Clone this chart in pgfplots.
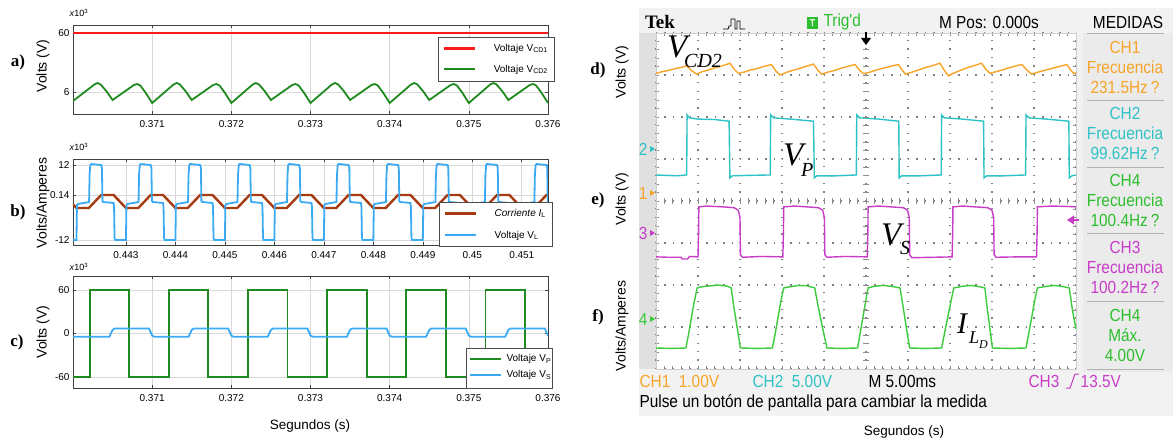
\documentclass[border=0pt]{standalone}
\usepackage{pgfplots}
\pgfplotsset{compat=1.18}
\usepackage{fontspec}
\setmainfont{Liberation Sans}
\newfontfamily\tnr{Liberation Serif}
\newfontfamily\scopef[FakeStretch=0.88]{Liberation Sans}
\definecolor{mred}{HTML}{FF1A1A}
\definecolor{mgreen}{HTML}{208A20}
\definecolor{mblue}{HTML}{3AAAF5}
\definecolor{mbrown}{HTML}{A63A10}
\definecolor{sorange}{HTML}{F7A428}
\definecolor{scyan}{HTML}{2EC2C6}
\definecolor{smag}{HTML}{C83CC8}
\definecolor{sgreen}{HTML}{3CCB3C}
\definecolor{tgreen}{HTML}{2DBE2D}
\pgfplotsset{
  leftax/.style={scale only axis, width=475pt, anchor=south west,
    axis line style={black!75, line width=0.7pt},
    tick align=inside, major tick length=3pt, tick style={black!75, line width=0.6pt},
    grid=major, major grid style={black!15, line width=0.6pt},
    ticklabel style={font=\fontsize{10}{11}\selectfont},
    /pgf/number format/assume math mode=true,
    xticklabel style={yshift=-3pt},
    legend cell align=left,
    legend image code/.code={\draw[##1] (0pt,0pt) -- (31pt,0pt);},
    legend style={draw=black!70, fill=white, font=\fontsize{10}{12}\selectfont, inner xsep=4pt},
    clip=true},
}
\begin{document}
\begin{tikzpicture}
\path[use as bounding box] (0,0) rectangle (1173pt,440pt);
% ---------- oscilloscope background ----------
\begin{scope}[x=1pt,y=-1pt,shift={(0pt,440pt)}]
  \fill[black!5] (639,8) rectangle (1173,416);
  \fill[black!12] (639,33) rectangle (656,369);
  \fill[black!8] (1083,33) rectangle (1173,372);
\end{scope}

% ---------- panel a ----------
\begin{axis}[leftax, at={(73pt,326pt)}, height=89pt,
  xmin=0.370, xmax=0.376, ymin=0, ymax=89,
  xtick={0.371,0.372,0.373,0.374,0.375,0.376}, xticklabels={0.371,0.372,0.373,0.374,0.375,0.376},
  ytick={22,81}, yticklabels={6,60},
  legend style={at={(1.0126,0.865)}, anchor=north east, row sep=8pt, inner ysep=5pt,
    /tikz/every odd column/.append style={column sep=16pt}}]
\addplot[mred, line width=2.6pt] coordinates {(0.370,81) (0.376,81)};
\addlegendentry{Voltaje V\textsubscript{CD1}}
\addplot[mgreen, line width=1.8pt] coordinates {
(0.37000,13) (0.37027,29.5) (0.37031,31) (0.37035,29.5) (0.37042,23) (0.37050,14) (0.37077,29) (0.37081,30) (0.37085,28.5) (0.37092,21) (0.37100,11)
(0.37127,29.5) (0.37131,31) (0.37135,29.5) (0.37142,23) (0.37150,14) (0.37177,29) (0.37181,30) (0.37185,28.5) (0.37192,21) (0.37200,11)
(0.37227,29.5) (0.37231,31) (0.37235,29.5) (0.37242,23) (0.37250,14) (0.37277,29) (0.37281,30) (0.37285,28.5) (0.37292,21) (0.37300,11)
(0.37327,29.5) (0.37331,31) (0.37335,29.5) (0.37342,23) (0.37350,14) (0.37377,29) (0.37381,30) (0.37385,28.5) (0.37392,21) (0.37400,11)
(0.37427,29.5) (0.37431,31) (0.37435,29.5) (0.37442,23) (0.37450,14) (0.37477,29) (0.37481,30) (0.37485,28.5) (0.37492,21) (0.37500,11)
(0.37527,29.5) (0.37531,31) (0.37535,29.5) (0.37542,23) (0.37550,14) (0.37577,29) (0.37581,30) (0.37585,28.5) (0.37592,21) (0.37600,11)};
\addlegendentry{Voltaje V\textsubscript{CD2}}
\end{axis}

% ---------- panel b ----------
\begin{axis}[leftax, at={(73pt,195pt)}, height=86pt,
  xmin=0.44193, xmax=0.45153, ymin=0, ymax=86,
  xtick={0.443,0.444,0.445,0.446,0.447,0.448,0.449,0.450,0.451},
  xticklabels={0.443,0.444,0.445,0.446,0.447,0.448,0.449,0.45,0.451},
  ytick={5,50,80}, yticklabels={-12,0.14,12},
  legend style={at={(1.0084,0.5)}, anchor=north east, row sep=9pt, inner ysep=5pt,
    /tikz/every odd column/.append style={column sep=16pt}}]
\addplot[mbrown, line width=2.4pt] coordinates {
(0.44193,40.6) (0.44200,37) (0.44225,37) (0.44250,50) (0.44275,50)
(0.44300,37) (0.44325,37) (0.44350,50) (0.44375,50)
(0.44400,37) (0.44425,37) (0.44450,50) (0.44475,50)
(0.44500,37) (0.44525,37) (0.44550,50) (0.44575,50)
(0.44600,37) (0.44625,37) (0.44650,50) (0.44675,50)
(0.44700,37) (0.44725,37) (0.44750,50) (0.44775,50)
(0.44800,37) (0.44825,37) (0.44850,50) (0.44875,50)
(0.44900,37) (0.44925,37) (0.44950,50) (0.44975,50)
(0.45000,37) (0.45025,37) (0.45050,50) (0.45075,50)
(0.45100,37) (0.45125,37) (0.45150,50) (0.45153,50)};
\addlegendentry{\textit{Corriente I}\textsubscript{L}}
\addplot[mblue, line width=1.8pt] coordinates {
(0.441930,5)
(0.442000,5) (0.442010,40) (0.442030,41) (0.442255,43) (0.442265,70) (0.442280,80) (0.442300,81) (0.442500,80) (0.442515,77) (0.442525,44) (0.442540,43) (0.442750,42) (0.442760,38) (0.442770,7) (0.442785,5)
(0.443000,5) (0.443010,40) (0.443030,41) (0.443255,43) (0.443265,70) (0.443280,80) (0.443300,81) (0.443500,80) (0.443515,77) (0.443525,44) (0.443540,43) (0.443750,42) (0.443760,38) (0.443770,7) (0.443785,5)
(0.444000,5) (0.444010,40) (0.444030,41) (0.444255,43) (0.444265,70) (0.444280,80) (0.444300,81) (0.444500,80) (0.444515,77) (0.444525,44) (0.444540,43) (0.444750,42) (0.444760,38) (0.444770,7) (0.444785,5)
(0.445000,5) (0.445010,40) (0.445030,41) (0.445255,43) (0.445265,70) (0.445280,80) (0.445300,81) (0.445500,80) (0.445515,77) (0.445525,44) (0.445540,43) (0.445750,42) (0.445760,38) (0.445770,7) (0.445785,5)
(0.446000,5) (0.446010,40) (0.446030,41) (0.446255,43) (0.446265,70) (0.446280,80) (0.446300,81) (0.446500,80) (0.446515,77) (0.446525,44) (0.446540,43) (0.446750,42) (0.446760,38) (0.446770,7) (0.446785,5)
(0.447000,5) (0.447010,40) (0.447030,41) (0.447255,43) (0.447265,70) (0.447280,80) (0.447300,81) (0.447500,80) (0.447515,77) (0.447525,44) (0.447540,43) (0.447750,42) (0.447760,38) (0.447770,7) (0.447785,5)
(0.448000,5) (0.448010,40) (0.448030,41) (0.448255,43) (0.448265,70) (0.448280,80) (0.448300,81) (0.448500,80) (0.448515,77) (0.448525,44) (0.448540,43) (0.448750,42) (0.448760,38) (0.448770,7) (0.448785,5)
(0.449000,5) (0.449010,40) (0.449030,41) (0.449255,43) (0.449265,70) (0.449280,80) (0.449300,81) (0.449500,80) (0.449515,77) (0.449525,44) (0.449540,43) (0.449750,42) (0.449760,38) (0.449770,7) (0.449785,5)
(0.450000,5) (0.450010,40) (0.450030,41) (0.450255,43) (0.450265,70) (0.450280,80) (0.450300,81) (0.450500,80) (0.450515,77) (0.450525,44) (0.450540,43) (0.450750,42) (0.450760,38) (0.450770,7) (0.450785,5)
(0.451000,5) (0.451010,40) (0.451030,41) (0.451255,43) (0.451265,70) (0.451280,80) (0.451300,81) (0.451500,80) (0.451515,77) (0.451525,44) (0.451530,43)};
\addlegendentry{Voltaje V\textsubscript{L}}
\end{axis}

% ---------- panel c ----------
\begin{axis}[leftax, at={(73pt,52pt)}, height=112pt,
  xmin=0.370, xmax=0.376, ymin=-75.2, ymax=79.3,
  xtick={0.371,0.372,0.373,0.374,0.375,0.376}, xticklabels={0.371,0.372,0.373,0.374,0.375,0.376},
  ytick={-60,0,60}, yticklabels={-60,0,60}]
\addplot[mgreen, line width=1.8pt] coordinates {
(0.370,-60)
(0.37021,-60) (0.37021,60) (0.37071,60) (0.37071,-60)
(0.37121,-60) (0.37121,60) (0.37171,60) (0.37171,-60)
(0.37221,-60) (0.37221,60) (0.37271,60) (0.37271,-60)
(0.37321,-60) (0.37321,60) (0.37371,60) (0.37371,-60)
(0.37421,-60) (0.37421,60) (0.37471,60) (0.37471,-60)
(0.37521,-60) (0.37521,60) (0.37571,60) (0.37571,-60)
(0.376,-60)};
\addplot[mblue, line width=1.8pt] coordinates {
(0.370,-4.5)
(0.37046,-4.5) (0.37050,5) (0.37053,7) (0.37096,7) (0.37100,-3) (0.37103,-4.5)
(0.37146,-4.5) (0.37150,5) (0.37153,7) (0.37196,7) (0.37200,-3) (0.37203,-4.5)
(0.37246,-4.5) (0.37250,5) (0.37253,7) (0.37296,7) (0.37300,-3) (0.37303,-4.5)
(0.37346,-4.5) (0.37350,5) (0.37353,7) (0.37396,7) (0.37400,-3) (0.37403,-4.5)
(0.37446,-4.5) (0.37450,5) (0.37453,7) (0.37496,7) (0.37500,-3) (0.37503,-4.5)
(0.37546,-4.5) (0.37550,5) (0.37553,7) (0.37596,7) (0.37600,-3)};
\end{axis}

% ---------- oscilloscope screen ----------
\begin{axis}[at={(656pt,71pt)}, anchor=south west, scale only axis, width=420pt, height=336pt,
  xmin=0, xmax=10, ymin=0, ymax=8,
  xtick={0,1,...,10}, ytick={0,1,...,8}, minor x tick num=4, minor y tick num=4,
  xticklabels={}, yticklabels={},
  axis background/.style={fill=white},
  grid=major, major grid style={black!50, line width=1.4pt, dash pattern=on 1.3pt off 7.1pt},
  axis line style={black!20, line width=0.5pt},
  tick align=inside, major tick length=3pt, minor tick length=3pt,
  tick style={black!45, line width=0.7pt},
  clip=true]
\addplot[sorange, line width=1.4pt] coordinates {
(0,7.04) (0.15,7.08) (0.3,7.11) (0.45,7.15) (0.6,7.18) (0.73,7.22) (0.85,7.1) (0.97,7.02)
(1.1,7.08) (1.25,7.12) (1.4,7.17) (1.55,7.21) (1.68,7.25) (1.76,7.28) (1.86,7.14) (1.96,7.04)
(2.1,7.07) (2.25,7.12) (2.4,7.15) (2.55,7.2) (2.75,7.25) (2.85,7.1) (2.95,7.0)
(3.1,7.06) (3.25,7.11) (3.4,7.15) (3.55,7.2) (3.75,7.26) (3.85,7.12) (3.94,7.02)
(4.1,7.07) (4.25,7.11) (4.4,7.16) (4.55,7.2) (4.74,7.25) (4.84,7.12) (4.94,7.03)
(5.1,7.07) (5.25,7.12) (5.4,7.16) (5.6,7.21) (5.77,7.25) (5.86,7.12) (5.94,7.02)
(6.1,7.07) (6.25,7.12) (6.4,7.17) (6.6,7.23) (6.76,7.28) (6.86,7.12) (6.96,6.98)
(7.1,7.05) (7.25,7.11) (7.4,7.17) (7.6,7.23) (7.75,7.28) (7.85,7.14) (7.95,7.04)
(8.1,7.08) (8.25,7.12) (8.4,7.17) (8.55,7.21) (8.71,7.25) (8.83,7.12) (8.94,7.02)
(9.1,7.07) (9.25,7.11) (9.4,7.15) (9.6,7.2) (9.78,7.25) (9.86,7.14) (9.94,7.04) (10,7.05)};
\addplot[scyan, line width=1.4pt] coordinates {
(0,4.62) (0.5,4.6) (0.73,4.62) (0.74,6.05) (0.8,5.98) (1.0,5.95) (1.4,5.94) (1.74,5.9) (1.76,4.55) (1.82,4.6) (2.2,4.61)
(2.72,4.62) (2.73,6.05) (2.8,5.98) (3.2,5.95) (3.75,5.9) (3.77,4.55) (3.83,4.6) (4.3,4.6)
(4.77,4.62) (4.78,6.05) (4.85,5.98) (5.3,5.95) (5.78,5.9) (5.79,4.55) (5.85,4.6) (6.3,4.6)
(6.79,4.62) (6.80,6.05) (6.87,5.98) (7.3,5.95) (7.8,5.9) (7.81,4.55) (7.87,4.6) (8.3,4.6)
(8.8,4.62) (8.81,6.05) (8.88,5.98) (9.3,5.95) (9.83,5.9) (9.84,4.55) (9.9,4.6) (10,4.62)};
\addplot[smag, line width=1.4pt] coordinates {
(0,2.67) (0.3,2.66) (0.6,2.66) (0.62,2.62) (0.75,2.62) (0.8,2.68) (1.0,2.67) (1.015,3.3) (1.02,3.86) (1.2,3.88) (1.6,3.86) (1.86,3.84) (1.96,3.78) (2.0,3.6) (2.01,2.72) (2.06,2.66) (2.5,2.68)
(3.02,2.67) (3.035,3.3) (3.04,3.86) (3.3,3.88) (3.6,3.86) (3.87,3.84) (3.97,3.78) (4.01,3.6) (4.02,2.72) (4.07,2.66) (4.5,2.68)
(5.03,2.67) (5.045,3.3) (5.05,3.86) (5.3,3.88) (5.6,3.86) (5.89,3.84) (5.99,3.78) (6.03,3.6) (6.04,2.72) (6.09,2.65) (6.6,2.66)
(7.05,2.67) (7.065,3.3) (7.07,3.86) (7.3,3.88) (7.6,3.86) (7.9,3.84) (8.0,3.78) (8.04,3.6) (8.05,2.72) (8.1,2.66) (8.6,2.67)
(9.06,2.67) (9.075,3.3) (9.08,3.86) (9.4,3.88) (9.8,3.87) (10,3.86)};
\addplot[sgreen, line width=1.4pt] coordinates {
(0,0.5) (0.4,0.49) (0.71,0.5) (0.78,0.85) (0.84,1.2) (0.9,1.55) (0.98,1.93) (1.1,1.96) (1.3,1.98) (1.5,2.0) (1.7,1.97) (1.79,1.93) (1.85,1.5) (1.93,1.0) (2.01,0.5) (2.4,0.49)
(2.77,0.5) (2.84,0.85) (2.9,1.2) (2.97,1.6) (3.04,1.93) (3.2,1.96) (3.4,1.99) (3.6,1.98) (3.78,1.93) (3.85,1.55) (3.95,1.05) (4.07,0.5) (4.4,0.49)
(4.80,0.5) (4.87,0.9) (4.93,1.25) (4.99,1.6) (5.05,1.93) (5.2,1.97) (5.4,1.99) (5.6,1.97) (5.81,1.93) (5.88,1.5) (5.95,1.05) (6.04,0.5) (6.4,0.49)
(6.80,0.5) (6.87,0.85) (6.95,1.25) (7.02,1.6) (7.09,1.93) (7.3,1.97) (7.5,1.99) (7.7,1.96) (7.83,1.93) (7.88,1.5) (7.94,1.05) (8.01,0.5) (8.4,0.49)
(8.81,0.5) (8.88,0.88) (8.95,1.25) (9.01,1.6) (9.08,1.93) (9.3,1.97) (9.5,1.99) (9.7,1.96) (9.84,1.93) (9.9,1.5) (9.96,1.15) (10,0.95)};
\end{axis}

% ---------- texts and decorations ----------
\begin{scope}[x=1pt,y=-1pt,shift={(0pt,440pt)}]
  % legend of panel c
  \draw[black!70, fill=white, line width=0.5pt] (466,348) rectangle (552,388);
  \draw[mgreen, line width=1.8pt] (470,359) -- (501,359);
  \node[anchor=west, font=\fontsize{10}{12}\selectfont] at (503,359) {Voltaje V\textsubscript{P}};
  \draw[mblue, line width=1.8pt] (470,375) -- (501,375);
  \node[anchor=west, font=\fontsize{10}{12}\selectfont] at (503,375) {Voltaje V\textsubscript{S}};
  % center cross ticks of scope graticule
  \foreach \i in {1,...,39} {\draw[black!45, line width=0.7pt] (863,{369-\i*8.4}) -- (869,{369-\i*8.4});}
  \foreach \i in {1,...,49} {\draw[black!45, line width=0.7pt] ({656+\i*8.4},198) -- ({656+\i*8.4},204);}
  % column separators
  \foreach \yy in {33,100,167,233,301,369} {\draw[black!30, line width=0.8pt] (1087,\yy) -- (1164,\yy);}
  % left panel texts
  \node[anchor=west, font=\fontsize{9}{9}\selectfont] at (66,13) {\textit{x}10\textsuperscript{3}};
  \node[anchor=west, font=\fontsize{9}{9}\selectfont] at (66,147) {\textit{x}10\textsuperscript{3}};
  \node[anchor=west, font=\fontsize{9}{9}\selectfont] at (66,267) {\textit{x}10\textsuperscript{3}};
  \node[font=\tnr\bfseries\fontsize{17}{17}\selectfont] at (18,62) {a)};
  \node[font=\tnr\bfseries\fontsize{17}{17}\selectfont] at (18,212) {b)};
  \node[font=\tnr\bfseries\fontsize{17}{17}\selectfont] at (17,342) {c)};
  \node[rotate=90, font=\fontsize{14}{14}\selectfont] at (43,66) {Volts (V)};
  \node[rotate=90, font=\fontsize{14}{14}\selectfont] at (43,203) {Volts/Amperes};
  \node[rotate=90, font=\fontsize{14}{14}\selectfont] at (43,332) {Volts (V)};
  \node[font=\fontsize{13.5}{14}\selectfont] at (310,426) {Segundos (s)};
  % right panel outer texts
  \node[font=\tnr\bfseries\fontsize{17}{17}\selectfont] at (598,70) {d)};
  \node[font=\tnr\bfseries\fontsize{17}{17}\selectfont] at (598,200) {e)};
  \node[font=\tnr\bfseries\fontsize{17}{17}\selectfont] at (598,317) {f)};
  \node[rotate=90, font=\fontsize{14}{14}\selectfont] at (622,72) {Volts (V)};
  \node[rotate=90, font=\fontsize{14}{14}\selectfont] at (622,199) {Volts (V)};
  \node[rotate=90, font=\fontsize{14}{14}\selectfont] at (622,326) {Volts/Amperes};
  \node[font=\fontsize{13.5}{14}\selectfont] at (904,432) {Segundos (s)};
  % header
  \node[font=\tnr\bfseries\fontsize{19}{19}\selectfont] at (660,22) {Tek};
  \draw[black, line width=0.8pt] (723,29) -- (728,29) -- (729,26) -- (731,26) -- (731,19) -- (735,19) -- (735,29) -- (737,29) -- (737,21) -- (740,21) -- (740,29) -- (745,29);
  \fill[tgreen] (807,17) rectangle (818,29);
  \node[text=white, font=\scopef\bfseries\fontsize{10}{10}\selectfont] at (812.5,23) {T};
  \node[anchor=west, text=tgreen, font=\scopef\fontsize{17.5}{18}\selectfont] at (820,22) {Trig'd};
  \node[font=\scopef\fontsize{17.5}{18}\selectfont] at (989,22) {M Pos: 0.000s};
  \node[font=\scopef\fontsize{17.5}{18}\selectfont] at (1128,22) {MEDIDAS};
  % trigger arrow
  \draw[black, line width=1.6pt] (866,32) -- (866,39);
  \fill[black] (861,38) -- (871,38) -- (866,45) -- cycle;
  % measurement column
  \begin{scope}[every node/.style={font=\scopef\fontsize{17.5}{18}\selectfont}]
    \node[text=sorange] at (1125,47) {CH1};
    \node[text=sorange] at (1125,67) {Frecuencia};
    \node[text=sorange] at (1125,87) {231.5Hz\,?};
    \node[text=scyan] at (1125,113) {CH2};
    \node[text=scyan] at (1125,133) {Frecuencia};
    \node[text=scyan] at (1125,153) {99.62Hz\,?};
    \node[text=tgreen] at (1125,180) {CH4};
    \node[text=tgreen] at (1125,200) {Frecuencia};
    \node[text=tgreen] at (1125,220) {100.4Hz\,?};
    \node[text=smag] at (1125,247) {CH3};
    \node[text=smag] at (1125,267) {Frecuencia};
    \node[text=smag] at (1125,287) {100.2Hz\,?};
    \node[text=tgreen] at (1125,315) {CH4};
    \node[text=tgreen] at (1125,335) {Máx.};
    \node[text=tgreen] at (1125,355) {4.00V};
    % bottom rows
    \node[anchor=west, text=sorange] at (636,381) {CH1\ \ 1.00V};
    \node[anchor=west, text=scyan] at (749,381) {CH2\ \ 5.00V};
    \node[anchor=west] at (865,381) {M 5.00ms};
    \node[anchor=west, text=smag] at (1025,381) {CH3\ \ \ \ \ 13.5V};
    \node[anchor=west] at (636,403) {Pulse un botón de pantalla para cambiar la medida};
    % channel markers
    \node[anchor=east, text=scyan] at (651,149) {2};
    \node[anchor=east, text=sorange] at (651,193) {1};
    \node[anchor=east, text=smag] at (651,233) {3};
    \node[anchor=east, text=sgreen] at (651,319) {4};
  \end{scope}
  \draw[smag, line width=1pt] (1066,388) -- (1070,388) -- (1075,374) -- (1079,374);
  \fill[scyan] (650,146) -- (655,149) -- (650,152) -- cycle;
  \fill[sorange] (650,190) -- (655,193) -- (650,196) -- cycle;
  \fill[smag] (650,230) -- (655,233) -- (650,236) -- cycle;
  \fill[sgreen] (650,316) -- (655,319) -- (650,322) -- cycle;
  % right magenta trigger-level arrow
  \fill[smag] (1067,220) -- (1074,215.5) -- (1074,224.5) -- cycle;
  \draw[smag, line width=1.6pt] (1073,220) -- (1079,220);
  % trace annotations
  \node[anchor=base west, inner sep=0pt, font=\tnr\itshape\fontsize{33}{33}\selectfont] at (667,58) {V};
  \node[anchor=base west, inner sep=0pt, font=\tnr\itshape\fontsize{20}{20}\selectfont] at (684,68) {CD2};
  \node[anchor=base west, inner sep=0pt, font=\tnr\itshape\fontsize{33}{33}\selectfont] at (783,166) {V};
  \node[anchor=base west, inner sep=0pt, font=\tnr\itshape\fontsize{20}{20}\selectfont] at (801,176) {P};
  \node[anchor=base west, inner sep=0pt, font=\tnr\itshape\fontsize{33}{33}\selectfont] at (881,245) {V};
  \node[anchor=base west, inner sep=0pt, font=\tnr\itshape\fontsize{20}{20}\selectfont] at (900,254) {S};
  \node[anchor=base west, inner sep=0pt, font=\tnr\itshape\fontsize{30}{30}\selectfont] at (957,333) {I};
  \node[anchor=base west, inner sep=0pt, font=\tnr\itshape\fontsize{18}{18}\selectfont] at (969,343) {L};
  \node[anchor=base west, inner sep=0pt, font=\tnr\itshape\fontsize{12}{12}\selectfont] at (979,348) {D};
\end{scope}
\end{tikzpicture}
\end{document}
